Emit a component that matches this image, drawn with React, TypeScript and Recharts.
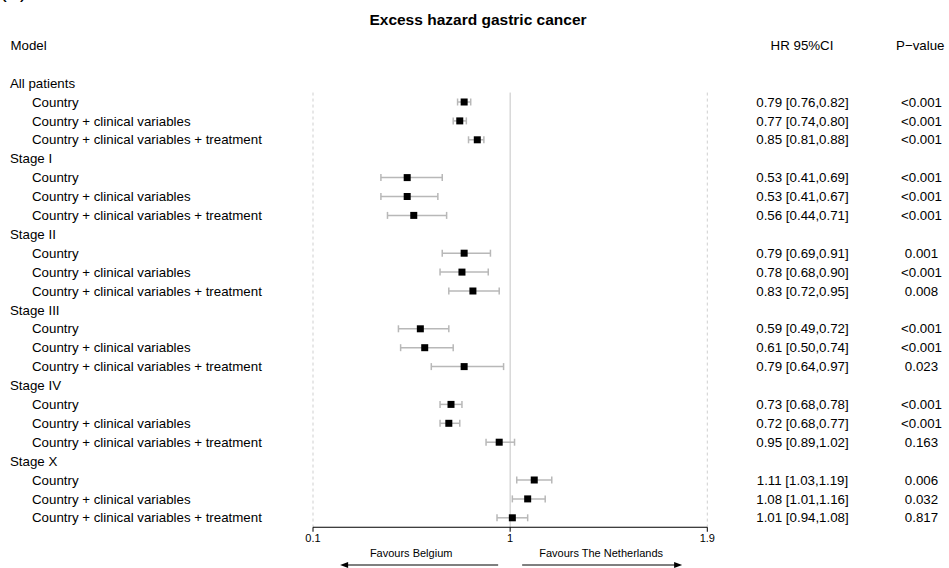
import React from 'react';
import { ScatterChart, Scatter, XAxis, YAxis, ErrorBar, ReferenceLine, Label } from 'recharts';

// Forest plot: excess hazard ratios (Belgium vs The Netherlands) by stage and model
const groups = ['All patients', 'Stage I', 'Stage II', 'Stage III', 'Stage IV', 'Stage X'];
const models = ['Country', 'Country + clinical variables', 'Country + clinical variables + treatment'];

const hazardRatios = [0.79, 0.77, 0.85, 0.53, 0.53, 0.56, 0.79, 0.78, 0.83, 0.59, 0.61, 0.79, 0.73, 0.72, 0.95, 1.11, 1.08, 1.01];
const ciLower = [0.76, 0.74, 0.81, 0.41, 0.41, 0.44, 0.69, 0.68, 0.72, 0.49, 0.50, 0.64, 0.68, 0.68, 0.89, 1.03, 1.01, 0.94];
const ciUpper = [0.82, 0.80, 0.88, 0.69, 0.67, 0.71, 0.91, 0.90, 0.95, 0.72, 0.74, 0.97, 0.78, 0.77, 1.02, 1.19, 1.16, 1.08];
const pValues = ['<0.001', '<0.001', '<0.001', '<0.001', '<0.001', '<0.001', '0.001', '<0.001', '0.008', '<0.001', '<0.001', '0.023', '<0.001', '<0.001', '0.163', '0.006', '0.032', '0.817'];

const xTicks = [0.1, 1, 1.9];

const FONT = '"Liberation Sans", Arial, Helvetica, sans-serif';
const TEXT_SIZE = 13.3;

type Row = {
  row: number;
  label: string;
  isGroup: boolean;
  hr?: number;
  err?: [number, number];
  ciText?: string;
  p?: string;
};

const rows: Row[] = [];
groups.forEach((g, gi) => {
  rows.push({ row: rows.length, label: g, isGroup: true });
  models.forEach((m, mi) => {
    const k = gi * models.length + mi;
    const hr = hazardRatios[k];
    const lo = ciLower[k];
    const hi = ciUpper[k];
    rows.push({
      row: rows.length,
      label: m,
      isGroup: false,
      hr,
      err: [+(hr - lo).toFixed(4), +(hi - hr).toFixed(4)],
      ciText: `${hr.toFixed(2)} [${lo.toFixed(2)},${hi.toFixed(2)}]`,
      p: pValues[k],
    });
  });
});

const pointRows = rows.filter((r) => !r.isGroup);
const rowTicks = rows.map((r) => r.row);
const lastRow = rows.length - 1;

const RowTick = (props: any) => {
  const { y, payload } = props;
  const r = rows[payload.value];
  if (!r) return null;
  return (
    <g fontFamily={FONT} fontSize={TEXT_SIZE} fill="#000">
      <text x={r.isGroup ? 10 : 32} y={y} dy="0.35em" fill="#000">
        {r.label}
      </text>
      {r.ciText && (
        <text x={802.5} y={y} dy="0.35em" textAnchor="middle" fill="#000">
          {r.ciText}
        </text>
      )}
      {r.p && (
        <text x={921.5} y={y} dy="0.35em" textAnchor="middle" fill="#000">
          {r.p}
        </text>
      )}
    </g>
  );
};

const Headers = () => (
  <g fontFamily={FONT} fill="#000">
    <text x={0} y={-2} fontSize={20}>(A)</text>
    <text x={478} y={20} dy="0.35em" textAnchor="middle" fontSize={15.5} fontWeight="bold">
      Excess hazard gastric cancer
    </text>
    <text x={10.5} y={45} dy="0.35em" fontSize={TEXT_SIZE}>Model</text>
    <text x={802} y={45} dy="0.35em" textAnchor="middle" fontSize={TEXT_SIZE}>HR 95%CI</text>
    <text x={920.3} y={45} dy="0.35em" textAnchor="middle" fontSize={TEXT_SIZE}>P−value</text>
  </g>
);

const Favours = (props: any) => {
  const vb = props.viewBox || {};
  const centre = vb.x + vb.width / 2;
  const textY = 552.7;
  const arrowY = 565;
  const leftHead = centre - 170;
  const leftTail = centre - 12;
  const rightTail = centre + 12;
  const rightHead = centre + 172;
  return (
    <g fontFamily={FONT} fontSize={11} fill="#000">
      <text x={centre - 99} y={textY} dy="0.35em" textAnchor="middle">Favours Belgium</text>
      <text x={centre + 91} y={textY} dy="0.35em" textAnchor="middle">Favours The Netherlands</text>
      <line x1={leftHead + 6} y1={arrowY} x2={leftTail} y2={arrowY} stroke="#555" strokeWidth={1.6} />
      <polygon points={`${leftHead},${arrowY} ${leftHead + 8},${arrowY - 3} ${leftHead + 8},${arrowY + 3}`} fill="#000" />
      <line x1={rightTail} y1={arrowY} x2={rightHead - 6} y2={arrowY} stroke="#000" strokeWidth={1} />
      <polygon points={`${rightHead},${arrowY} ${rightHead - 8},${arrowY - 3} ${rightHead - 8},${arrowY + 3}`} fill="#000" />
    </g>
  );
};

const SquareMarker = (props: any) => {
  const { cx, cy } = props;
  if (cx == null || cy == null) return null;
  return <rect x={cx - 3.5} y={cy - 3.5} width={7} height={7} fill="#000" />;
};

export default function App() {
  return (
    <div style={{ position: 'absolute', left: 0, top: 0, width: 949, height: 568, background: '#fff' }}>
      <ScatterChart
        width={949}
        height={568}
        margin={{ top: 73.65, right: 241.7, bottom: 0, left: 0 }}
      >
        <XAxis
          type="number"
          dataKey="hr"
          domain={[0.1, 1.9]}
          ticks={xTicks}
          interval={0}
          allowDataOverflow
          height={40.75}
          tickSize={4.5}
          tickMargin={2}
          axisLine={{ stroke: '#000', strokeWidth: 1 }}
          tickLine={{ stroke: '#000', strokeWidth: 1 }}
          tick={{ fill: '#000', fontSize: 11, fontFamily: FONT }}
          tickFormatter={(v: number) => String(v)}
        >
          <Label content={Favours} />
        </XAxis>
        <YAxis
          type="number"
          dataKey="row"
          domain={[-0.5, lastRow + 0.5]}
          reversed
          ticks={rowTicks}
          interval={0}
          width={313}
          axisLine={false}
          tickLine={false}
          tick={RowTick}
        >
          <Label content={Headers} />
        </YAxis>
        <ReferenceLine
          segment={[{ x: 0.1, y: 0.5 }, { x: 0.1, y: lastRow + 0.5 }]}
          stroke="#cfcfcf"
          strokeDasharray="3 3"
        />
        <ReferenceLine
          segment={[{ x: 1.9, y: 0.5 }, { x: 1.9, y: lastRow + 0.5 }]}
          stroke="#cfcfcf"
          strokeDasharray="3 3"
        />
        <ReferenceLine
          segment={[{ x: 1, y: 0.5 }, { x: 1, y: lastRow + 0.5 }]}
          stroke="#c4c4c4"
          strokeWidth={1}
        />
        <Scatter data={pointRows} shape={SquareMarker} isAnimationActive={false}>
          <ErrorBar dataKey="err" direction="x" width={3.5} stroke="#b8b8b8" strokeWidth={1.5} />
        </Scatter>
      </ScatterChart>
    </div>
  );
}
